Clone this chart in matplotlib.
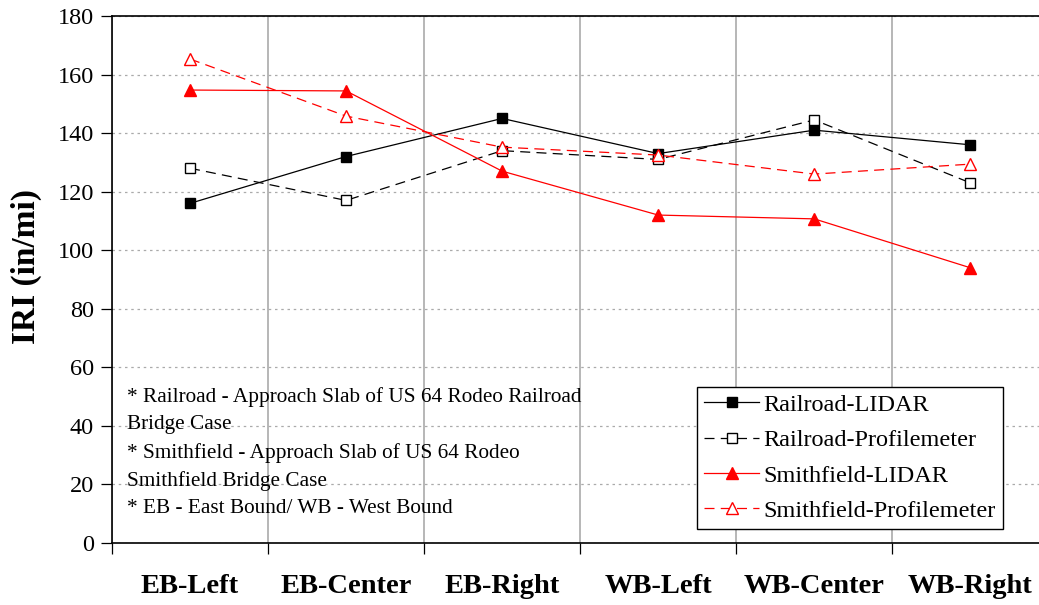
import matplotlib.pyplot as plt
from matplotlib.ticker import FixedLocator, MultipleLocator

plt.rcParams['font.family'] = ['Liberation Serif', 'DejaVu Serif']

categories = ["EB-Left", "EB-Center", "EB-Right", "WB-Left", "WB-Center", "WB-Right"]
railroad_lidar = [116, 132, 145, 133, 141, 136]
railroad_prof = [128, 117, 134, 131, 144.5, 123]
smith_lidar = [154.7, 154.4, 127, 112, 110.7, 94]
smith_prof = [165.3, 145.8, 135.2, 132.5, 126, 129.4]

notes = ("* Railroad - Approach Slab of US 64 Rodeo Railroad\n"
         "Bridge Case\n"
         "* Smithfield - Approach Slab of US 64 Rodeo\n"
         "Smithfield Bridge Case\n"
         "* EB - East Bound/ WB - West Bound")

fig = plt.figure(figsize=(10.39, 6.05), dpi=100)
ax = fig.add_axes([0.1078, 0.1025, 0.8922, 0.8711])

x = list(range(len(categories)))
ax.plot(x, railroad_lidar, color="black", lw=0.9, marker="s", ms=7,
        mfc="black", mec="black", label="Railroad-LIDAR")
ax.plot(x, railroad_prof, color="black", lw=0.9, ls=(0, (8, 5)), marker="s", ms=7,
        mfc="white", mec="black", label="Railroad-Profilemeter")
ax.plot(x, smith_lidar, color="red", lw=0.9, marker="^", ms=8,
        mfc="red", mec="red", label="Smithfield-LIDAR")
ax.plot(x, smith_prof, color="red", lw=0.9, ls=(0, (8, 5)), marker="^", ms=8,
        mfc="white", mec="red", label="Smithfield-Profilemeter")

ax.set_xlim(-0.5, 5.44)
ax.set_ylim(0, 180)
ax.yaxis.set_major_locator(MultipleLocator(20))
ax.grid(axis="y", color="#aaaaaa", ls=(0, (2, 3)), lw=0.9)

# boundaries between categories carry the ticks and vertical grid
ax.xaxis.set_major_locator(FixedLocator([i + 0.5 for i in range(-1, 6)]))
ax.xaxis.set_major_formatter(plt.NullFormatter())
ax.xaxis.set_minor_locator(FixedLocator(x))
ax.set_xticklabels(categories, minor=True, fontsize=20.5, fontweight="bold")
ax.tick_params(axis="x", which="minor", length=0, pad=22)
ax.tick_params(axis="x", which="major", length=8, direction="out", width=0.9)
ax.grid(axis="x", which="major", color="#aaaaaa", lw=1.2)
ax.tick_params(axis="y", labelsize=17.5, length=8, width=0.9, direction="out", pad=5)

for s in ax.spines.values():
    s.set_linewidth(1.2)
ax.spines["right"].set_visible(False)

ax.set_ylabel("IRI (in/mi)", fontsize=24, fontweight="bold")
ax.yaxis.set_label_coords(-0.075, 0.524)

ax.text(0.016, 0.296, notes, transform=ax.transAxes, fontsize=15.3,
        va="top", ha="left", linespacing=1.58)

leg = ax.legend(loc="lower left", bbox_to_anchor=(0.631, 0.026), fontsize=17.5,
                frameon=True, fancybox=False, edgecolor="black", framealpha=1,
                handlelength=2.25, borderpad=0.3, labelspacing=0.55, handletextpad=0.2,
                borderaxespad=0)
leg.get_frame().set_linewidth(1.0)

fig.savefig("out.png", dpi=100)
